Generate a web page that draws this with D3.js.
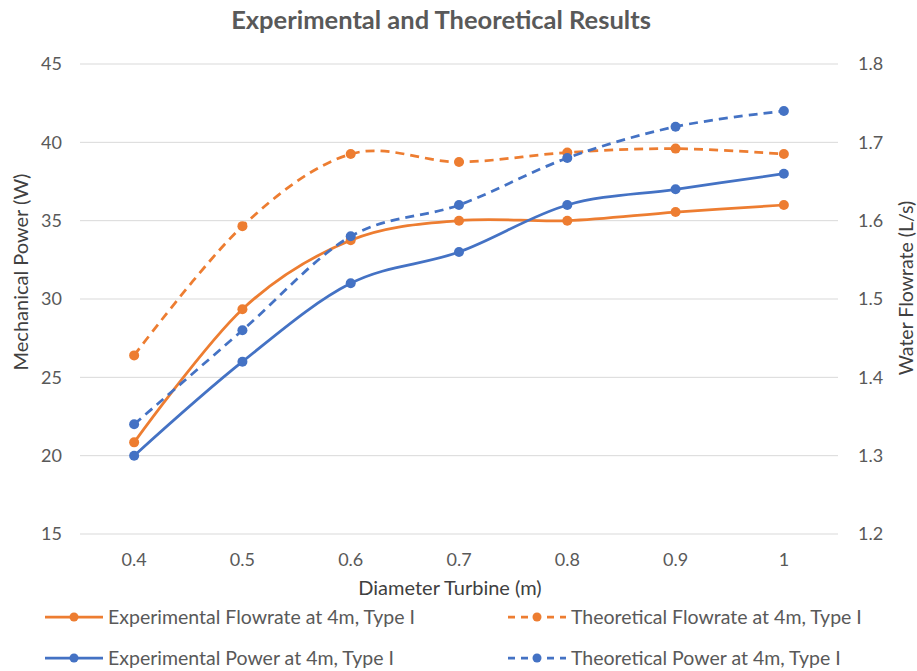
<!DOCTYPE html>
<html>
<head>
<meta charset="utf-8">
<script src="https://cdn.jsdelivr.net/npm/d3@7"></script>
<style>
  html, body { margin: 0; padding: 0; background: #fff; }
  svg { display: block; }
</style>
</head>
<body>
<svg id="chart" width="917" height="671"></svg>
<script>
const categories = ["0.4", "0.5", "0.6", "0.7", "0.8", "0.9", "1"];
const expFlowrate = [1.317, 1.487, 1.575, 1.600, 1.600, 1.611, 1.620];
const theoFlowrate = [1.428, 1.593, 1.685, 1.675, 1.687, 1.692, 1.685];
const expPower = [20, 26, 31, 33, 36, 37, 38];
const theoPower = [22, 28, 34, 36, 39, 41, 42];
const leftTicks = [15, 20, 25, 30, 35, 40, 45];
const rightTicks = [1.2, 1.3, 1.4, 1.5, 1.6, 1.7, 1.8];

const FONT = "Lato, 'Open Sans', sans-serif";
const ORANGE = "#ED7D31", BLUE = "#4472C4";
const TXT = "#595959";
const svg = d3.select("#chart");

const plot = { left: 80, right: 838, top: 64, bottom: 534 };

const x = d3.scaleBand().domain(categories).range([plot.left, plot.right]);
const xc = c => x(c) + x.bandwidth() / 2;
const yL = d3.scaleLinear().domain([15, 45]).range([plot.bottom, plot.top]);
const yR = d3.scaleLinear().domain([1.2, 1.8]).range([plot.bottom, plot.top]);

// gridlines
svg.append("g").selectAll("line").data(leftTicks).join("line")
  .attr("x1", plot.left).attr("x2", plot.right)
  .attr("y1", d => yL(d)).attr("y2", d => yL(d))
  .attr("stroke", "#d9d9d9").attr("stroke-width", 1);

// left axis
const gL = svg.append("g").attr("transform", `translate(${plot.left},0)`)
  .call(d3.axisLeft(yL).tickValues(leftTicks).tickSize(0).tickPadding(18));
gL.select(".domain").remove();
gL.selectAll("text").attr("font-family", FONT).attr("font-size", 18).attr("fill", TXT);

// right axis
const gR = svg.append("g").attr("transform", `translate(${plot.right},0)`)
  .call(d3.axisRight(yR).tickValues(rightTicks).tickFormat(d3.format(".1f")).tickSize(0).tickPadding(20));
gR.select(".domain").remove();
gR.selectAll("text").attr("font-family", FONT).attr("font-size", 18).attr("fill", TXT);

// x axis
const gX = svg.append("g").attr("transform", `translate(0,${plot.bottom})`)
  .call(d3.axisBottom(x).tickSize(0).tickPadding(19));
gX.select(".domain").remove();
gX.selectAll("text").attr("font-family", FONT).attr("font-size", 18).attr("fill", TXT);

// titles
svg.append("text").attr("x", 441).attr("y", 29).attr("text-anchor", "middle")
  .attr("font-family", FONT).attr("font-size", 25.5).attr("font-weight", "bold").attr("fill", TXT)
  .text("Experimental and Theoretical Results");
svg.append("text").attr("x", 450).attr("y", 595).attr("text-anchor", "middle")
  .attr("font-family", FONT).attr("font-size", 20).attr("fill", "#404040")
  .text("Diameter Turbine (m)");
svg.append("text").attr("transform", "translate(28,272) rotate(-90)").attr("text-anchor", "middle")
  .attr("font-family", FONT).attr("font-size", 20).attr("fill", "#404040")
  .text("Mechanical Power (W)");
svg.append("text").attr("transform", "translate(913,288) rotate(-90)").attr("text-anchor", "middle")
  .attr("font-family", FONT).attr("font-size", 19.5).attr("fill", "#404040")
  .text("Water Flowrate (L/s)");

const series = [
  { name: "Experimental Flowrate at 4m, Type I", values: expFlowrate, y: yR, color: ORANGE, dash: null },
  { name: "Theoretical Flowrate at 4m, Type I", values: theoFlowrate, y: yR, color: ORANGE, dash: "9,6" },
  { name: "Experimental Power at 4m, Type I", values: expPower, y: yL, color: BLUE, dash: null },
  { name: "Theoretical Power at 4m, Type I", values: theoPower, y: yL, color: BLUE, dash: "9,6" }
];

series.forEach(s => {
  const line = d3.line()
    .x((d, i) => xc(categories[i]))
    .y(d => s.y(d))
    .curve(d3.curveCatmullRom.alpha(0));
  svg.append("path").datum(s.values)
    .attr("d", line).attr("fill", "none")
    .attr("stroke", s.color).attr("stroke-width", 2.75)
    .attr("stroke-dasharray", s.dash);
  svg.append("g").selectAll("circle").data(s.values).join("circle")
    .attr("cx", (d, i) => xc(categories[i])).attr("cy", d => s.y(d))
    .attr("r", 5).attr("fill", s.color);
});

// legend
const legPos = [[45, 617], [508, 617], [45, 658], [508, 658]];
series.forEach((s, i) => {
  const [lx, ly] = legPos[i];
  const g = svg.append("g").attr("transform", `translate(${lx},${ly})`);
  g.append("line").attr("x1", 0).attr("x2", 58).attr("y1", 0).attr("y2", 0)
    .attr("stroke", s.color).attr("stroke-width", 2.75).attr("stroke-dasharray", s.dash ? "7,6" : null);
  g.append("circle").attr("cx", 29).attr("cy", 0).attr("r", 4.5).attr("fill", s.color);
  g.append("text").attr("x", 63).attr("y", 0).attr("dy", "0.35em")
    .attr("font-family", FONT).attr("font-size", 19.5).attr("fill", TXT)
    .text(s.name);
});
</script>
</body>
</html>
